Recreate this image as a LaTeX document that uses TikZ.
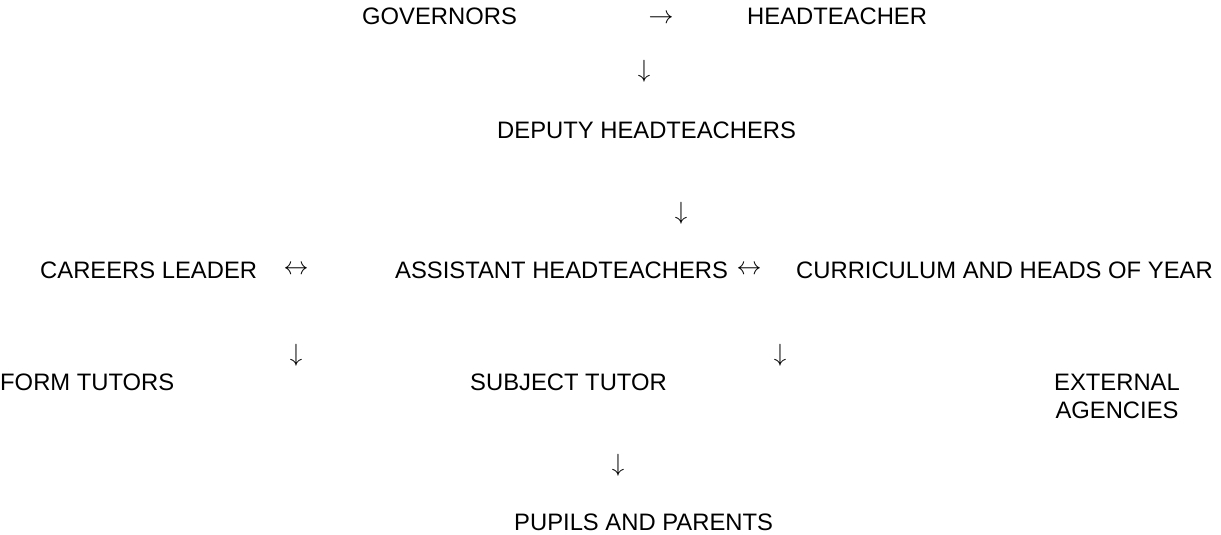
\documentclass[tikz,border=0pt]{standalone}
\usepackage{fontspec}
\setmainfont{Liberation Sans}
\begin{document}
\begin{tikzpicture}[x=1pt,y=-1pt,
  lbl/.style={inner sep=0pt,anchor=base west,font=\fontsize{23.8}{28}\selectfont},
  arr/.style={inner sep=0pt,anchor=center,font=\fontsize{24.5}{28}\selectfont}]
\useasboundingbox (0,0) rectangle (1221,535);
\node[lbl] (gov) at (362,25) {GOVERNORS};
\node[arr] (a1) at (661,19) {$\rightarrow$};
\node[lbl] (head) at (747,25) {HEADTEACHER};
\node[arr] (a2) at (644,71) {$\downarrow$};
\node[lbl] (dep) at (497,138.5) {DEPUTY HEADTEACHERS};
\node[arr] (a3) at (681,213) {$\downarrow$};
\node[lbl] (car) at (40,278) {CAREERS LEADER};
\node[arr] (a4) at (296,270) {$\leftrightarrow$};
\node[lbl] (ass) at (395,278) {ASSISTANT HEADTEACHERS};
\node[arr] (a5) at (749,270) {$\leftrightarrow$};
\node[lbl] (cur) at (796,278) {CURRICULUM AND HEADS OF YEAR};
\node[arr] (a6) at (296,355) {$\downarrow$};
\node[arr] (a7) at (780,355) {$\downarrow$};
\node[lbl] (form) at (0,390) {FORM TUTORS};
\node[lbl] (subj) at (470,390) {SUBJECT TUTOR};
\node[lbl,anchor=base,align=center] (ext) at (1117,418) {EXTERNAL\\[0pt]AGENCIES};
\node[arr] (a8) at (618,465) {$\downarrow$};
\node[lbl] (pup) at (514,530) {PUPILS AND PARENTS};
\end{tikzpicture}
\end{document}
